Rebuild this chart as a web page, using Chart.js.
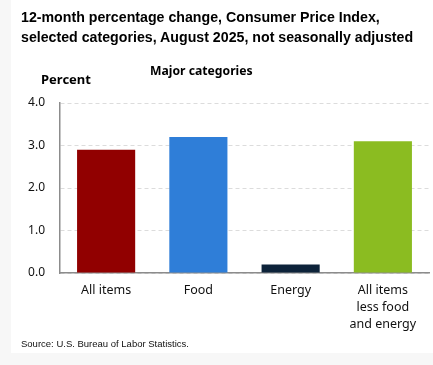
<!DOCTYPE html>
<html>
<head>
<meta charset="utf-8">
<script src="https://cdn.jsdelivr.net/npm/chart.js@4/dist/chart.umd.min.js"></script>
<style>
  body { margin: 0; background: #f7f7f7; }
  #panel { position: absolute; left: 11px; top: 0; width: 422px; height: 353px; background: #fff; }
  #wrap { position: absolute; left: 0; top: 0; width: 433px; height: 365px; }
  .txt { position: absolute; white-space: nowrap; color: #000; }
  #title { left: 21px; top: 7px; font: bold 14.2px "Liberation Sans", Arial, sans-serif; line-height: 20px; }
  #sub { left: 150px; top: 62px; font: bold 12.2px "Noto Sans", sans-serif; }
  #unit { left: 41px; top: 70px; font: bold 13px "Noto Sans", sans-serif; }
  #source { left: 21px; top: 338px; font: 9.5px "Liberation Sans", Arial, sans-serif; color: #111; }
</style>
</head>
<body>
<div id="panel"></div>
<div id="wrap"><canvas id="chart" width="433" height="365"></canvas></div>
<div class="txt" id="title">12-month percentage change, Consumer Price Index,<br>selected categories, August 2025, not seasonally adjusted</div>
<div class="txt" id="sub">Major categories</div>
<div class="txt" id="unit">Percent</div>
<div class="txt" id="source">Source: U.S. Bureau of Labor Statistics.</div>
<script>
// categories along the x axis (multi line labels)
const categories = [["All items"], ["Food"], ["Energy"], ["All items", "less food", "and energy"]]
// 12-month percent change, august 2025
const values = [2.9, 3.2, 0.2, 3.1]
const barColors = ["#910000", "#2f7ed8", "#0d233a", "#8bbc21"]
// y axis ticks
const yTicks = [0, 1, 2, 3, 4]

const ctx = document.getElementById('chart')

new Chart(ctx, {
  type: 'bar',
  data: {
    labels: categories,
    datasets: [{
      data: values,
      backgroundColor: barColors,
      barPercentage: 0.63,
      categoryPercentage: 1
    }]
  },
  options: {
    responsive: false,
    animation: false,
    layout: { padding: { left: 0, top: 103, right: 4, bottom: 0 } },
    plugins: { legend: { display: false }, tooltip: { enabled: false } },
    scales: {
      x: {
        grid: { display: false, drawTicks: false },
        border: { display: true, color: '#8c8c8c', width: 1.5 },
        ticks: {
          color: '#111',
          padding: 9,
          maxRotation: 0,
          font: { family: 'Noto Sans', size: 12.5, lineHeight: 1.36 }
        },
        afterFit: function(scale) { scale.height = 92 }
      },
      y: {
        min: 0,
        max: 4,
        afterBuildTicks: function(scale) { scale.ticks = yTicks.map(v => ({ value: v })) },
        grid: { color: '#dcdcdc', drawTicks: false },
        border: { display: true, color: '#8c8c8c', width: 1.5, dash: [4, 3] },
        ticks: {
          color: '#111',
          padding: 15,
          font: { family: 'Noto Sans', size: 12 },
          callback: v => v.toFixed(1)
        },
        afterFit: function(scale) { scale.width = 60 }
      }
    }
  }
})
</script>
</body>
</html>
